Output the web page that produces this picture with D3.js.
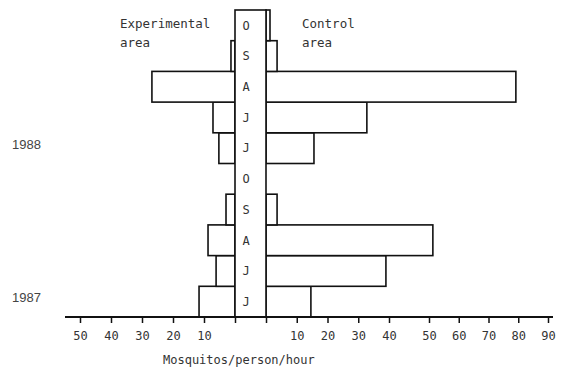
<!DOCTYPE html>
<html>
<head>
<meta charset="utf-8">
<script src="https://cdn.jsdelivr.net/npm/d3@7"></script>
<style>
  body { margin: 0; background: #fff; }
  svg { display: block; }
  text { fill: #333; }
</style>
</head>
<body>
<svg width="569" height="371"></svg>
<script>
// months in chronological order (June..October), drawn bottom to top
const years = ["1987", "1988"];
const months = ["J", "J", "A", "S", "O"];
const experimental1987 = [11.6, 6.1, 8.7, 2.9, 0];
const experimental1988 = [5.2, 7.1, 26.8, 1.3, 0];
const control1987 = [14.6, 39, 51.3, 3.6, 0];
const control1988 = [15.6, 32.8, 79.2, 3.6, 1.3];
const leftTicks = [0, 10, 20, 30, 40, 50];
const rightTicks = [0, 10, 20, 30, 40, 50, 60, 70, 80, 90];

const expByYear = { "1987": experimental1987, "1988": experimental1988 };
const ctrlByYear = { "1987": control1987, "1988": control1988 };

let rows = [];
years.forEach(y => {
    months.forEach((m, i) => {
        rows.push({ key: y + '-' + i, year: y, month: m, i: i,
                    exp: expByYear[y][i], ctrl: ctrlByYear[y][i] });
    });
});
// top to bottom: latest first
let order = rows.slice().reverse().map(r => r.key);

const svg = d3.select('svg');
const mono = '"DejaVu Sans Mono", monospace';

const y = d3.scaleBand().domain(order).range([10, 317]);
const xLeft = d3.scaleLinear().domain([0, 50]).range([235, 80]);
// the right axis in the original is drawn with a wider gap between 40 and 50
const xRight = d3.scaleLinear().domain([0, 40, 50, 90]).range([266, 389, 429, 548]);

const bars = svg.append('g')
    .attr('fill', '#fff')
    .attr('stroke', '#111')
    .attr('stroke-width', 1.6);

bars.selectAll('rect.exp')
    .data(rows.filter(r => r.exp > 0))
    .join('rect')
    .attr('class', 'exp')
    .attr('x', r => xLeft(r.exp))
    .attr('y', r => y(r.key))
    .attr('width', r => xLeft(0) - xLeft(r.exp))
    .attr('height', y.bandwidth());

bars.selectAll('rect.ctrl')
    .data(rows.filter(r => r.ctrl > 0))
    .join('rect')
    .attr('class', 'ctrl')
    .attr('x', xRight(0))
    .attr('y', r => y(r.key))
    .attr('width', r => xRight(r.ctrl) - xRight(0))
    .attr('height', y.bandwidth());

// central month column
svg.append('rect')
    .attr('x', xLeft(0))
    .attr('y', y.range()[0])
    .attr('width', xRight(0) - xLeft(0))
    .attr('height', y.range()[1] - y.range()[0])
    .attr('fill', '#fff')
    .attr('stroke', '#111')
    .attr('stroke-width', 1.6);

svg.selectAll('text.month')
    .data(rows)
    .join('text')
    .attr('class', 'month')
    .attr('x', xLeft(0) + 11)
    .attr('y', r => y(r.key) + y.bandwidth() / 2)
    .attr('dy', '0.36em')
    .attr('text-anchor', 'middle')
    .style('font-family', mono)
    .style('font-size', '12px')
    .text(r => r.month);

// year labels next to the June row
svg.selectAll('text.year')
    .data(years)
    .join('text')
    .attr('class', 'year')
    .attr('x', 12)
    .attr('y', yr => y(yr + '-0') + y.bandwidth() / 2 - 4)
    .attr('dy', '0.36em')
    .style('font-family', '"Liberation Sans", sans-serif')
    .style('font-size', '13px')
    .style('fill', '#444')
    .text(yr => yr);

// axes
const axisY = y.range()[1];
const fmt = d => d === 0 ? '' : d;

const gl = svg.append('g')
    .attr('transform', `translate(0, ${axisY})`)
    .call(d3.axisBottom(xLeft).tickValues(leftTicks).tickFormat(fmt).tickSize(6).tickPadding(8));
const gr = svg.append('g')
    .attr('transform', `translate(0, ${axisY})`)
    .call(d3.axisBottom(xRight).tickValues(rightTicks).tickFormat(fmt).tickSize(6).tickPadding(8));

[gl, gr].forEach(g => {
    g.select('.domain').remove();
    g.selectAll('line').attr('stroke', '#111').attr('stroke-width', 1.5);
    g.selectAll('text')
        .style('font-family', mono)
        .style('font-size', '12px')
        .attr('fill', '#333');
});

svg.append('line')
    .attr('x1', xLeft(50) - 15)
    .attr('x2', xRight(90) + 5)
    .attr('y1', axisY)
    .attr('y2', axisY)
    .attr('stroke', '#111')
    .attr('stroke-width', 2);

// titles
const titles = svg.append('g')
    .style('font-family', mono)
    .style('font-size', '12.5px');
titles.append('text').attr('x', 120).attr('y', 28).text('Experimental');
titles.append('text').attr('x', 120).attr('y', 47).text('area');
titles.append('text').attr('x', 302).attr('y', 28).text('Control');
titles.append('text').attr('x', 302).attr('y', 47).text('area');

svg.append('text')
    .attr('x', 163)
    .attr('y', 364)
    .style('font-family', mono)
    .style('font-size', '12px')
    .text('Mosquitos/person/hour');
</script>
</body>
</html>
